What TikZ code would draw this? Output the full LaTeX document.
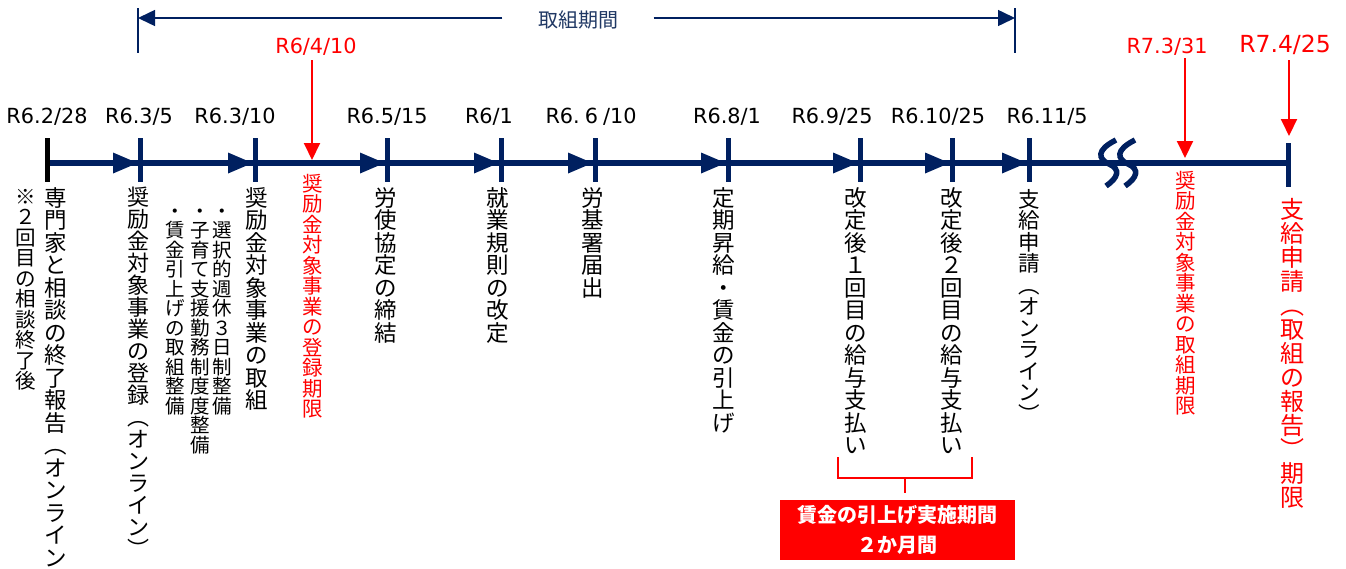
\documentclass[tikz,border=0pt]{standalone}
\usepackage{fontspec}
\usetikzlibrary{arrows.meta,calc}
\setmainfont{DejaVu Sans}
\newfontfamily\jp{Noto Sans CJK JP}
\definecolor{navy}{HTML}{002060}
\definecolor{navytext}{HTML}{203864}
\definecolor{myred}{HTML}{FF0000}
\def\vcaux#1{\ifx\relax#1\else\hbox to 1em{\vrule height .88em depth .12em width 0pt\hss#1\hss}\expandafter\vcaux\fi}
\newcommand\vtxt[1]{\vbox{\offinterlineskip\vcaux#1\relax}}
\tikzset{
  date/.style={inner sep=0pt, font=\fontsize{20.8}{20.8}\selectfont},
  reddate/.style={date, text=myred},
  vt/.style={anchor=north, inner sep=0pt},
  vmain/.style={vt, font=\jp\fontsize{22.5}{22.5}\selectfont},
  vsmall/.style={vt, font=\jp\fontsize{19.5}{19.5}\selectfont},
  vred/.style={vt, text=myred, font=\jp\fontsize{20.5}{20.5}\selectfont},
  tick/.style={navy, line width=5pt},
  redarrow/.style={myred, line width=2pt, -{Triangle[width=16pt,length=17pt]}},
  spanarrow/.style={navy, line width=1.5pt, -{Triangle[width=16pt,length=17pt]}},
  wave/.style={navy, line width=5.5pt},
}
\begin{document}
\begin{tikzpicture}[x=1pt,y=-1pt]
\useasboundingbox (0,0) rectangle (1346,568);
% main timeline
\coordinate (t0) at (47,163);
\coordinate (tend) at (1288,163);
\draw[navy, line width=6pt] (t0) -- (tend);
\draw[black, line width=5pt] (47,138) -- (47,182);
\foreach \x in {140,255,387,501,595,728,860,952,1029}{
  \draw[tick] (\x,138) -- (\x,182);
  \fill[navy] (\x-2.5,163) -- (\x-27,152.5) -- (\x-27,173.5) -- cycle;
}
\draw[tick] (1288,143) -- (1288,187);
% break mark
\foreach \d in {0,19}{
  \draw[wave] (1116+\d,140) .. controls (1096+\d,150) and (1098+\d,159) .. (1109+\d,164)
     .. controls (1121+\d,169) and (1118+\d,178) .. (1106+\d,186);
}
% dates
\node[date] (d1) at (47,117) {R6.2/28};
\node[date] (d2) at (139,117) {R6.3/5};
\node[date] (d3) at (235,117) {R6.3/10};
\node[date] (d4) at (387,117) {R6.5/15};
\node[date] (d5) at (489,117) {R6/1};
\node[date] (d6) at (591,117) {R6.\hspace{5pt}6\hspace{5pt}/10};
\node[date] (d7) at (727,117) {R6.8/1};
\node[date] (d8) at (832,117) {R6.9/25};
\node[date] (d9) at (938,117) {R6.10/25};
\node[date] (d10) at (1047,117) {R6.11/5};
% red deadlines
\node[reddate] (r1) at (316,47) {R6/4/10};
\coordinate (a1) at (312,160);
\draw[redarrow] (a1 |- 0,60) -- (a1);
\node[reddate] (r2) at (1167,47) {R7.3/31};
\coordinate (a2) at (1185,158);
\draw[redarrow] (a2 |- 0,58) -- (a2);
\node[reddate, font=\fontsize{23.5}{23.5}\selectfont] (r3) at (1285,45) {R7.4/25};
\coordinate (a3) at (1289,136);
\draw[redarrow] (a3 |- 0,60) -- (a3);
% span arrow
\coordinate (pl) at (138,18);
\coordinate (pr) at (1015,18);
\draw[navy, line width=1.5pt] (138,8) -- (138,53);
\draw[navy, line width=1.5pt] (1015,8) -- (1015,53);
\node[inner sep=0pt, minimum width=151pt, minimum height=20pt, text=navytext, font=\jp\fontsize{20}{20}\selectfont] (span) at (578,20) {取組期間};
\draw[spanarrow] (pl -| span.west) -- (pl);
\draw[spanarrow] (pl -| span.east) -- (pr);
% vertical labels
\node[vt, font=\jp\fontsize{20.5}{20.5}\selectfont] (n0b) at (26,186) {\vtxt{※２回目の相談終了後}};
\node[vmain] (n0) at (56,186) {\vtxt{専門家と相談の終了報告︵オンライン︶}};
\node[vt, font=\jp\fontsize{22}{22}\selectfont] (n1) at (138,186) {\vtxt{奨励金対象事業の登録︵オンライン︶}};
\node[vsmall] (n2c) at (175,201) {\vtxt{・賃金引上げの取組整備}};
\node[vsmall] (n2b) at (200,201) {\vtxt{・子育て支援勤務制度度整備}};
\node[vsmall] (n2a) at (222,201) {\vtxt{・選択的週休３日制整備}};
\node[vmain] (n2) at (257,186) {\vtxt{奨励金対象事業の取組}};
\node[vred] (n3) at (313,173) {\vtxt{奨励金対象事業の登録期限}};
\node[vmain] (n4) at (386,186) {\vtxt{労使協定の締結}};
\node[vmain] (n5) at (498,186) {\vtxt{就業規則の改定}};
\node[vmain] (n6) at (593,186) {\vtxt{労基署届出}};
\node[vmain] (n7) at (724,186) {\vtxt{定期昇給・賃金の引上げ}};
\node[vmain] (n8) at (856,186) {\vtxt{改定後１回目の給与支払い}};
\node[vmain] (n9) at (952,186) {\vtxt{改定後２回目の給与支払い}};
\node[vt, font=\jp\fontsize{21.5}{21.5}\selectfont] (n10) at (1029,188) {\vtxt{支給申請︵オンライン︶}};
\node[vred] (n11) at (1186,170) {\vtxt{奨励金対象事業の取組期限}};
\node[vt, text=myred, font=\jp\fontsize{24}{24}\selectfont] (n12) at (1292,197) {\vtxt{支給申請︵取組の報告︶期限}};
% bracket and box
\node[fill=myred, text=white, minimum width=235pt, minimum height=60pt, inner sep=0pt, align=center,
      font=\jp\bfseries\fontsize{20}{30}\selectfont] (bx) at (897.5,530) {賃金の引上げ実施期間\\２か月間};
\coordinate (bs) at ($(bx.north)+(7.5,-7)$);
\draw[myred, line width=2pt] (838,457) -- (838,478) -- (972,478) -- (972,457);
\draw[myred, line width=2pt] (bs |- 0,478) -- (bs);
\end{tikzpicture}
\end{document}
